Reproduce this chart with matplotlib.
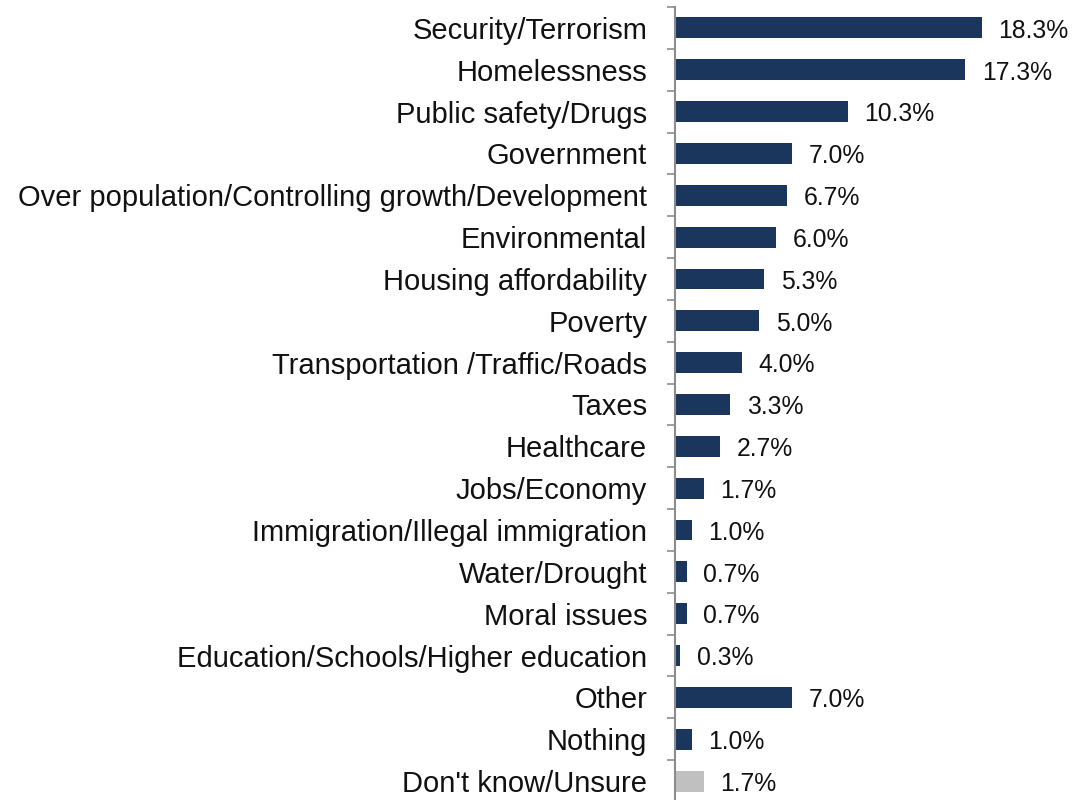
import matplotlib.pyplot as plt
from matplotlib.ticker import FixedLocator, NullFormatter

plt.rcParams['font.family'] = ['Liberation Sans', 'DejaVu Sans']

categories = [
    "Security/Terrorism",
    "Homelessness",
    "Public safety/Drugs",
    "Government",
    "Over population/Controlling growth/Development",
    "Environmental",
    "Housing affordability",
    "Poverty",
    "Transportation /Traffic/Roads",
    "Taxes",
    "Healthcare",
    "Jobs/Economy",
    "Immigration/Illegal immigration",
    "Water/Drought",
    "Moral issues",
    "Education/Schools/Higher education",
    "Other",
    "Nothing",
    "Don't know/Unsure",
]
values = [18.3, 17.3, 10.3, 7.0, 6.7, 6.0, 5.3, 5.0, 4.0, 3.3, 2.7, 1.7, 1.0, 0.7, 0.7, 0.3, 7.0, 1.0, 1.7]
bar_colors = ["#1b365d"] * 18 + ["#c0c0c0"]

fig = plt.figure(figsize=(10.75, 8), dpi=100)
ax = fig.add_axes([675 / 1075, -2 / 800, 1 - 675 / 1075, 795 / 800])

pos = list(range(len(categories)))
ax.barh(pos, values, height=0.5, color=bar_colors)
ax.set_ylim(len(categories) - 0.5, -0.5)
ax.set_xlim(0, 23.85)

for y, v in zip(pos, values):
    ax.annotate(f"{v:.1f}%", (v, y), xytext=(12, -2), textcoords="offset points",
                va="center", ha="left", fontsize=17.8, color="#111111")

# category names as text, tick marks sit between categories
ax.set_yticks(pos)
ax.set_yticklabels(categories, fontsize=21, color="#111111")
ax.tick_params(axis="y", which="major", length=0, pad=20)
ax.yaxis.set_minor_locator(FixedLocator([p - 0.5 for p in pos] + [len(pos) - 0.5]))
ax.yaxis.set_minor_formatter(NullFormatter())
ax.tick_params(axis="y", which="minor", length=6, width=1.2, color="#8c8c8c")

ax.set_xticks([])
for side in ["top", "right", "bottom"]:
    ax.spines[side].set_visible(False)
ax.spines["left"].set_color("#8c8c8c")
ax.spines["left"].set_linewidth(1.5)

fig.savefig("out.png", dpi=100)
